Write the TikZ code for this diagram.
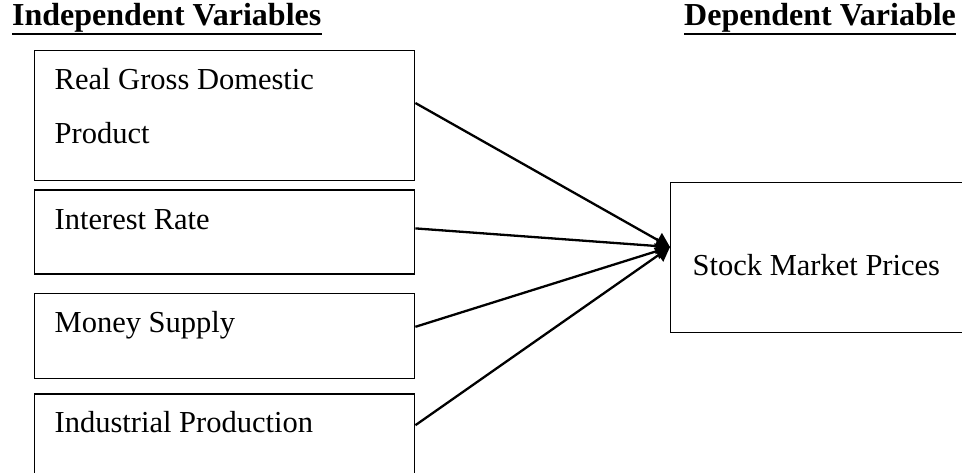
\documentclass[tikz,border=0pt]{standalone}
\usepackage{fontspec}
\setmainfont{Liberation Serif}
\usepackage{tikz}
\usetikzlibrary{arrows.meta,positioning}

\begin{document}
\begin{tikzpicture}[x=1pt,y=1pt,>={Triangle[length=14pt,width=16pt]}]
\tikzstyle{varbox}=[draw,line width=1.4pt,anchor=north west,align=flush left,text width=340pt,inner xsep=20pt,inner ysep=18pt,text height=21pt,font=\fontsize{30.5}{54}\selectfont]
\tikzstyle{heading}=[inner sep=0pt,anchor=base west,font=\fontsize{32}{38}\selectfont\bfseries]
\tikzstyle{link}=[->,line width=2.3pt]
\useasboundingbox (0,0) rectangle (962,-472);
\clip (0,0) rectangle (962,-472);
% headings
\node[heading] (indep) at (12,-25) {Independent Variables};
\node[heading] (dep) at (684,-25) {Dependent Variable};
\draw[line width=2.8pt] ([yshift=-9pt]indep.base west) -- ([yshift=-9pt]indep.base east);
\draw[line width=2.8pt] ([yshift=-9pt]dep.base west) -- ([yshift=-9pt]dep.base east);
% independent variables
\node[varbox,text depth=73pt] (gdp) at (34,-50) {Real Gross Domestic\\Product};
\node[varbox,text depth=27pt,below=8pt of gdp] (rate) {Interest Rate};
\node[varbox,text depth=28pt,below=18pt of rate] (money) {Money Supply};
\node[varbox,text depth=60pt,below=14pt of money] (prod) {Industrial Production};
% dependent variable
\node[varbox,text width=300pt,inner xsep=22pt,text height=75pt,text depth=39pt] (stock) at (670,-182) {Stock Market Prices};
\coordinate (tip) at ([yshift=-65pt]stock.north west);
\draw[link] ([yshift=-53pt]gdp.north east) -- (tip);
\draw[link] ([yshift=-39pt]rate.north east) -- (tip);
\draw[link] ([yshift=-34pt]money.north east) -- (tip);
\draw[link] ([yshift=-32pt]prod.north east) -- (tip);
\end{tikzpicture}
\end{document}
